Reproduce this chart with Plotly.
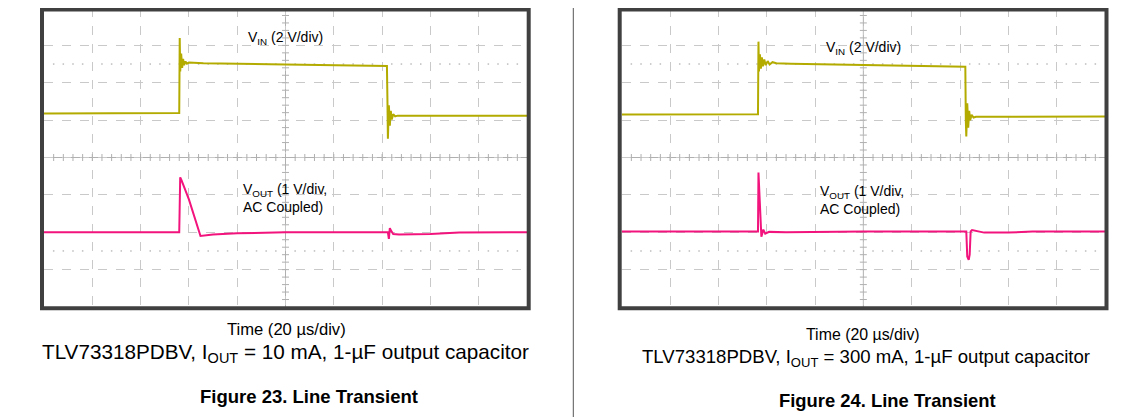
import plotly.graph_objects as go
import numpy as np

# time axis in scope divisions (20 us/div), amplitude in divisions
vin1_t = [0, 1.5, 2.80, 2.81, 2.82, 2.84, 2.86, 2.88, 2.90, 2.93, 2.96, 3.0, 3.3, 5.0, 6.5, 7.10, 7.11, 7.12, 7.14, 7.16, 7.18, 7.20, 7.23, 7.27, 7.32, 8.5, 10]
vin1_v = [1.18, 1.18, 1.19, 3.20, 2.30, 2.78, 2.40, 2.64, 2.47, 2.57, 2.51, 2.54, 2.52, 2.49, 2.46, 2.45, 1.60, 0.50, 1.40, 0.85, 1.25, 1.02, 1.16, 1.10, 1.12, 1.12, 1.12]

vout1_t = [0, 2.80, 2.82, 2.85, 3.0, 3.15, 3.24, 3.5, 4.0, 5.0, 7.12, 7.14, 7.16, 7.19, 7.23, 7.35, 8.0, 8.6, 10]
vout1_v = [-2.0, -2.0, -0.53, -0.62, -1.12, -1.72, -2.10, -2.06, -2.03, -2.0, -2.0, -2.18, -1.89, -1.97, -2.05, -2.06, -2.05, -2.01, -2.0]

vin2_t = [0, 1.5, 2.82, 2.83, 2.84, 2.86, 2.88, 2.90, 2.92, 2.95, 2.98, 3.02, 3.06, 3.12, 3.2, 3.5, 5.0, 6.5, 7.11, 7.12, 7.13, 7.15, 7.17, 7.19, 7.21, 7.24, 7.28, 7.33, 8.5, 10]
vin2_v = [1.15, 1.15, 1.16, 3.10, 2.30, 2.76, 2.38, 2.68, 2.44, 2.62, 2.47, 2.58, 2.49, 2.55, 2.52, 2.51, 2.48, 2.45, 2.43, 1.00, 0.56, 1.45, 0.80, 1.25, 1.00, 1.14, 1.07, 1.09, 1.09, 1.10]

vout2_t = [0, 2.82, 2.83, 2.85, 2.86, 2.89, 2.93, 2.97, 3.05, 3.4, 5.0, 7.13, 7.15, 7.18, 7.20, 7.22, 7.25, 7.5, 8.0, 8.5, 10]
vout2_v = [-1.98, -1.98, -0.40, -1.00, -1.60, -2.12, -1.93, -2.04, -1.99, -2.0, -1.98, -1.98, -2.65, -2.74, -2.60, -1.98, -1.94, -2.01, -2.01, -1.98, -1.98]

vin_label = 'V<sub>IN</sub> (2 V/div)'
vout_label = 'V<sub>OUT</sub> (1 V/div,<br>AC Coupled)'
time_label = 'Time (20 µs/div)'
captions = ['TLV73318PDBV, I<sub>OUT</sub> = 10 mA, 1-µF output capacitor',
            'TLV73318PDBV, I<sub>OUT</sub> = 300 mA, 1-µF output capacitor']
fig_titles = ['Figure 23. Line Transient', 'Figure 24. Line Transient']

# the page body has an 8px margin, so the figure starts at (8, 8) in the window
OFF = 8
W, H = 1139 - OFF, 417 - OFF
VIN_COLOR = '#b3ab00'
VOUT_COLOR = '#f2137c'
GRID = '#c9c9c9'
CROSS = '#b0b0b0'
FONT = 'Arial, Liberation Sans, sans-serif'

# inner plot area (window pixels) of each scope screen, plus text placement
panels = [dict(x0=44, x1=527, fx0=42, fx1=528.7,
               time=(286, 329, 16.6), cap=(285, 353, 20.7), title=(309, 396, 18.5)),
          dict(x0=621.7, x1=1105, fx0=619.7, fx1=1106.5,
               time=(863, 334, 15.9), cap=(866, 358, 18.6), title=(887.5, 400, 18.4))]
top, bottom = 8, 307
ftop, fbottom = 9.5, 308.3

def px(x):
    return (x - OFF) / W

def py(y):
    return 1 - (y - OFF) / H

fig = go.Figure()

axis_common = dict(range=[0, 10], dtick=1, tick0=0, showgrid=True, gridcolor=GRID, griddash='dash',
                   gridwidth=1, showticklabels=False, ticks='', zeroline=False, showline=False, fixedrange=True)

series = [(vin1_t, vin1_v, vout1_t, vout1_v), (vin2_t, vin2_v, vout2_t, vout2_v)]
shapes = []
annotations = []

for i, p in enumerate(panels):
    n = '' if i == 0 else str(i + 1)
    xa = dict(axis_common, domain=[px(p['x0']), px(p['x1'])], anchor='y' + n)
    ya = dict(axis_common, range=[-4, 4], domain=[py(bottom), py(top)], anchor='x' + n)
    fig.update_layout(**{'xaxis' + n: xa, 'yaxis' + n: ya})
    xr, yr = 'x' + n, 'y' + n

    # centre cross lines with minor ticks
    shapes.append(dict(type='line', xref=xr, yref=yr, x0=0, x1=10, y0=0, y1=0, line=dict(color=CROSS, width=1), layer='below'))
    shapes.append(dict(type='line', xref=xr, yref=yr, x0=5, x1=5, y0=-4, y1=4, line=dict(color=CROSS, width=1), layer='below'))
    tx = np.round(np.arange(0.2, 10, 0.2), 2)
    ty = np.round(np.arange(-3.8, 4, 0.2), 2)
    fig.add_trace(go.Scatter(x=tx, y=np.zeros_like(tx), mode='markers', xaxis=xr, yaxis=yr, hoverinfo='skip',
                             marker=dict(symbol='line-ns-open', size=5, color=CROSS, line=dict(color=CROSS, width=1))))
    fig.add_trace(go.Scatter(x=np.full_like(ty, 5), y=ty, mode='markers', xaxis=xr, yaxis=yr, hoverinfo='skip',
                             marker=dict(symbol='line-ew-open', size=5, color=CROSS, line=dict(color=CROSS, width=1))))
    # dotted rows
    dx = np.array([v for v in tx if abs(v - round(v)) > 1e-6])
    for yy in (2.5, -2.5):
        fig.add_trace(go.Scatter(x=dx, y=np.full_like(dx, yy), mode='markers', xaxis=xr, yaxis=yr, hoverinfo='skip',
                                 marker=dict(symbol='square', size=1.5, color='#bdbdbd', line=dict(width=0))))

    t_in, v_in, t_out, v_out = series[i]
    fig.add_trace(go.Scatter(x=t_in, y=v_in, mode='lines', xaxis=xr, yaxis=yr,
                             line=dict(color=VIN_COLOR, width=2)))
    fig.add_trace(go.Scatter(x=t_out, y=v_out, mode='lines', xaxis=xr, yaxis=yr,
                             line=dict(color=VOUT_COLOR, width=2)))

    # screen frame
    shapes.append(dict(type='rect', xref='paper', yref='paper', x0=px(p['fx0']), x1=px(p['fx1']),
                       y0=py(fbottom), y1=py(ftop), line=dict(color='#404040', width=4)))

    vin_y = 3.19 if i == 0 else 2.92
    vout_y = -1.08 if i == 0 else -1.15
    annotations.append(dict(x=5.0, y=vin_y, xref=xr, yref=yr, text=vin_label, showarrow=False,
                            font=dict(size=14, color='black', family=FONT)))
    annotations.append(dict(x=4.07, y=vout_y, xref=xr, yref=yr, text=vout_label, showarrow=False,
                            xanchor='left', align='left', font=dict(size=14, color='black', family=FONT)))

    for key, txt in (('time', time_label), ('cap', captions[i]), ('title', '<b>' + fig_titles[i] + '</b>')):
        tx_, ty_, size = p[key]
        annotations.append(dict(x=px(tx_), y=py(ty_), xref='paper', yref='paper', text=txt, showarrow=False,
                                xanchor='center', yanchor='middle', font=dict(size=size, color='black', family=FONT)))

# divider between the two figures
shapes.append(dict(type='line', xref='paper', yref='paper', x0=px(573.3), x1=px(573.3), y0=0, y1=1,
                   line=dict(color='#555555', width=1)))

fig.update_layout(width=W, height=H, margin=dict(l=0, r=0, t=0, b=0), showlegend=False,
                  plot_bgcolor='white', paper_bgcolor='white', shapes=shapes, annotations=annotations,
                  font=dict(family=FONT, color='black'))

fig.write_html('out.html')
